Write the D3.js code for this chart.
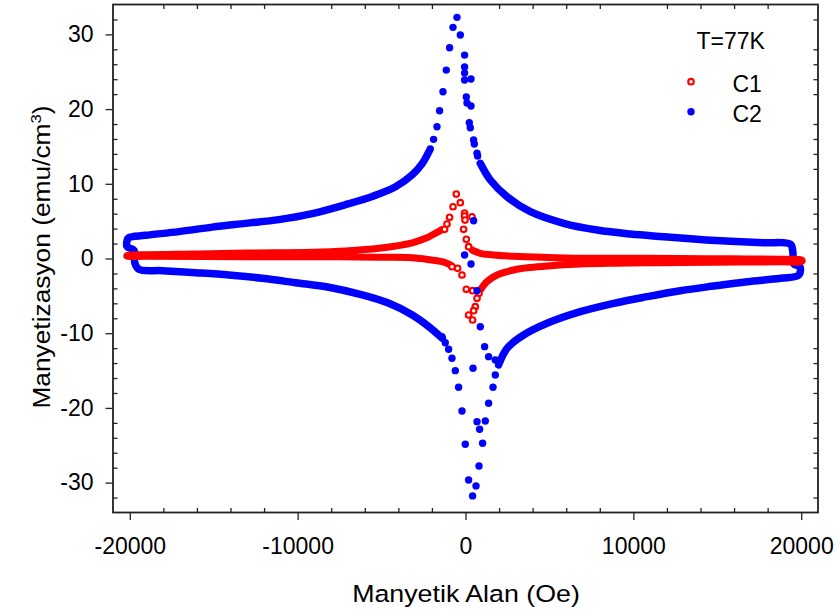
<!DOCTYPE html>
<html>
<head>
<meta charset="utf-8">
<script src="https://cdn.jsdelivr.net/npm/d3@7"></script>
<style>
    body { margin: 0; background: #fff; }
    svg { display: block; font-family: "Liberation Sans", Arial, sans-serif; }
</style>
</head>
<body>
<svg width="836" height="614"></svg>
<script>
/***************************************************************
    Data  [H (Oe), M (emu/cm3)]
****************************************************************/
// C2 - dense part, left side (upper branch -> left end -> lower branch)
const c2Left = [[-2180,14.3],[-2580,12.7],[-3170,11.2],[-4170,9.6],[-5560,8.3],[-7150,7.2],[-9130,6.0],
    [-11120,5.2],[-13110,4.7],[-15090,4.2],[-17080,3.6],[-19070,3.1],[-20060,2.8],[-20160,2.4],[-20160,1.6],
    [-19750,1.1],[-19700,-0.6],[-19460,-1.45],[-18070,-1.63],[-16090,-1.9],[-14100,-2.21],[-12110,-2.65],
    [-10130,-3.24],[-8140,-3.85],[-6150,-4.88],[-4560,-6.0],[-3170,-7.56],[-2180,-9.13],[-1383,-10.68]];
// C2 - dense part, right side
const c2Right = [[882,12.74],[1478,10.5],[2474,8.27],[3863,6.26],[5850,4.71],[7840,3.81],[9820,3.28],
    [11810,2.92],[13800,2.57],[15790,2.3],[17770,2.11],[19360,1.9],[19500,0.91],[19560,-0.74],[19920,-1.1],
    [19860,-2.21],[18770,-2.65],[16780,-3.1],[14790,-3.68],[12800,-4.31],[10820,-5.11],[8830,-6.0],
    [6840,-7.12],[4860,-8.67],[3460,-10.24],[2474,-12.02],[1973,-14.25]];
// C2 - single points near zero field
const c2Center = [[-2098,14.65],[-1902,15.95],[-1699,17.64],[-1544,19.78],[-1341,22.32],[-1145,25.22],
    [-948,28.21],[-745,30.94],[-507,32.28],[-310,29.91],[-54,27.23],[-54,25.63],[-54,24.82],[-54,23.89],
    [328,24.02],[48,21.61],[89,20.81],[328,20.41],[227,18.17],[286,17.5],[483,15.86],[525,15.32],
    [686,14.08],[721,13.72],
    [-1401,-10.46],[-1204,-11.27],[-1007,-12.15],[-805,-13.35],[-608,-15.01],[-411,-17.24],[-209,-20.41],
    [-12,-24.86],[185,-29.64],[423,-31.78],[626,-30.44],[805,-27.77],[1019,-24.73],[841,-22.86],
    [1180,-21.75],[686,-21.84],[1377,-19.38],[1639,-17.24],[1776,-15.59],[1776,-13.58],[447,-14.69],
    [882,-9.13],[1139,-11.8],[1377,-13.14],[686,-4.31],[328,-0.74],[-54,0.47],[483,5.06]];

// C1 - dense part, left side
const c1Left = [[-1383,3.9],[-1700,3.5],[-2380,2.7],[-3170,2.1],[-5160,1.36],[-7150,1.0],[-9130,0.83],
    [-13100,0.72],[-16100,0.6],[-19070,0.5],[-20160,0.4],[-20160,0.3],[-19070,0.3],[-13100,0.24],
    [-9130,0.24],[-5160,0.16],[-3170,0.1],[-1700,-0.3],[-1383,-0.43],[-888,-0.87]];
// C1 - dense part, right side
const c1Right = [[387,1.14],[882,0.7],[1500,0.5],[2870,0.3],[4860,0.15],[6840,0.05],[9820,0.03],
    [12800,0.0],[15790,-0.05],[18770,-0.1],[19960,-0.15],[20060,-0.3],[19960,-0.45],[18770,-0.45],
    [14790,-0.5],[11800,-0.56],[8830,-0.64],[6840,-0.75],[4860,-1.0],[3860,-1.2],[2870,-1.54],
    [1878,-2.21],[1282,-3.1],[882,-4.22]];
// C1 - single points near zero field
const c1Center = [[-1246,3.91],[-1103,4.62],[-948,5.51],[-745,6.93],[-548,8.63],[-310,7.47],[-54,6.09],
    [-54,5.69],[-30,5.15],[387,5.59],[-113,3.91],[48,2.57],[185,1.58],
    [-805,-1.10],[-471,-1.31],[-209,-2.21],[48,-4.12],[423,-4.31],[805,-4.66],[686,-5.33],[584,-6.45],
    [483,-6.99],[185,-7.56],[423,-8.23]];

const xMajor = [-20000, -10000, 0, 10000, 20000];
const yMajor = [-30, -20, -10, 0, 10, 20, 30];
const legendTitle = "T=77K";
const legendNames = ["C1", "C2"];

/***************************************************************
    Chart
****************************************************************/
const margin = { left: 113, top: 4.5 };
const width = 705, height = 508;
const axisColor = "#222";

const svg = d3.select("svg");
const g = svg.append("g").attr("transform", `translate(${margin.left},${margin.top})`);

const x = d3.scaleLinear().domain([-21000, 21000]).range([0, width]);
const y = d3.scaleLinear().domain([-34, 34]).range([height, 0]);

drawAxes();
drawSeries();
drawLegend();

function drawAxes() {
    // minor ticks every 2000 Oe / 2 emu, not on the major ones
    let xMinor = d3.range(-20000, 20001, 2000).filter(v => !xMajor.includes(v));
    let yMinor = d3.range(-32, 33, 2).filter(v => !yMajor.includes(v));
    let plain = d => String(d);   // plain hyphen minus, like the original

    g.append("g").attr("class", "x-major").attr("transform", `translate(0,${height})`)
        .call(d3.axisBottom(x).tickValues(xMajor).tickSize(7.5).tickPadding(18).tickFormat(plain));
    g.append("g").attr("class", "y-major")
        .call(d3.axisLeft(y).tickValues(yMajor).tickSize(7.5).tickPadding(12).tickFormat(plain));

    g.append("g").attr("transform", `translate(0,${height})`)
        .call(d3.axisBottom(x).tickValues(xMinor).tickSize(-4.5).tickFormat(""));
    g.append("g")
        .call(d3.axisTop(x).tickValues(xMinor).tickSize(-4.5).tickFormat(""));
    g.append("g")
        .call(d3.axisLeft(y).tickValues(yMinor).tickSize(-4.5).tickFormat(""));
    g.append("g").attr("transform", `translate(${width},0)`)
        .call(d3.axisRight(y).tickValues(yMinor).tickSize(-4.5).tickFormat(""));

    g.selectAll(".domain").remove();
    g.selectAll(".tick line").attr("stroke", axisColor).attr("stroke-width", 1.3);
    g.selectAll(".tick text").attr("fill", "#000").attr("font-size", 23)
        .attr("font-family", "Liberation Sans, Arial, sans-serif");

    g.append("rect").attr("width", width).attr("height", height)
        .attr("fill", "none").attr("stroke", axisColor).attr("stroke-width", 1.8);

    // axis titles
    svg.append("text")
        .attr("transform", "translate(466,601.5) scale(1.14,1)")
        .attr("text-anchor", "middle").attr("font-size", 23.5)
        .text("Manyetik Alan (Oe)");

    let yl = svg.append("text")
        .attr("transform", "translate(49.5,257) rotate(-90) scale(1.12,1)")
        .attr("text-anchor", "middle").attr("font-size", 23.5);
    yl.append("tspan").text("Manyetizasyon (emu/cm");
    yl.append("tspan").attr("font-size", 15).attr("dy", -9).text("3");
    yl.append("tspan").attr("dy", 9).text(")");
}

function drawSeries() {
    let line = d3.line().x(d => x(d[0])).y(d => y(d[1])).curve(d3.curveCatmullRom.alpha(0.5));

    // C2 dense branches
    [c2Left, c2Right].forEach(seg => {
        g.append("path").datum(seg).attr("d", line)
            .attr("fill", "none").attr("stroke", "#0000ff").attr("stroke-width", 7.5)
            .attr("stroke-linecap", "round").attr("stroke-linejoin", "round");
    });

    // C1 dense branches
    [c1Left, c1Right].forEach(seg => {
        g.append("path").datum(seg).attr("d", line)
            .attr("fill", "none").attr("stroke", "#ff0000").attr("stroke-width", 7)
            .attr("stroke-linecap", "round").attr("stroke-linejoin", "round");
    });

    // C1 open circles
    g.append("g").selectAll("circle").data(c1Center).enter().append("circle")
        .attr("cx", d => x(d[0])).attr("cy", d => y(d[1])).attr("r", 2.8)
        .attr("fill", "#fff").attr("stroke", "#ff0000").attr("stroke-width", 2.1);

    // C2 filled circles
    g.append("g").selectAll("circle").data(c2Center).enter().append("circle")
        .attr("cx", d => x(d[0])).attr("cy", d => y(d[1])).attr("r", 3.7)
        .attr("fill", "#0000ff");
}

function drawLegend() {
    svg.append("text").attr("x", 696.5).attr("y", 49.3).attr("font-size", 23).text(legendTitle);

    let items = svg.append("g").selectAll("g").data(legendNames).enter().append("g")
        .attr("transform", (d, i) => `translate(691,${81.7 + i * 30})`);
    items.append("circle").attr("r", (d, i) => i === 0 ? 2.8 : 3.7)
        .attr("fill", (d, i) => i === 0 ? "#fff" : "#0000ff")
        .attr("stroke", (d, i) => i === 0 ? "#ff0000" : "none")
        .attr("stroke-width", 2.1);
    items.append("text").attr("x", 41.5).attr("y", 9.8).attr("font-size", 23).text(d => d);
}
</script>
</body>
</html>
